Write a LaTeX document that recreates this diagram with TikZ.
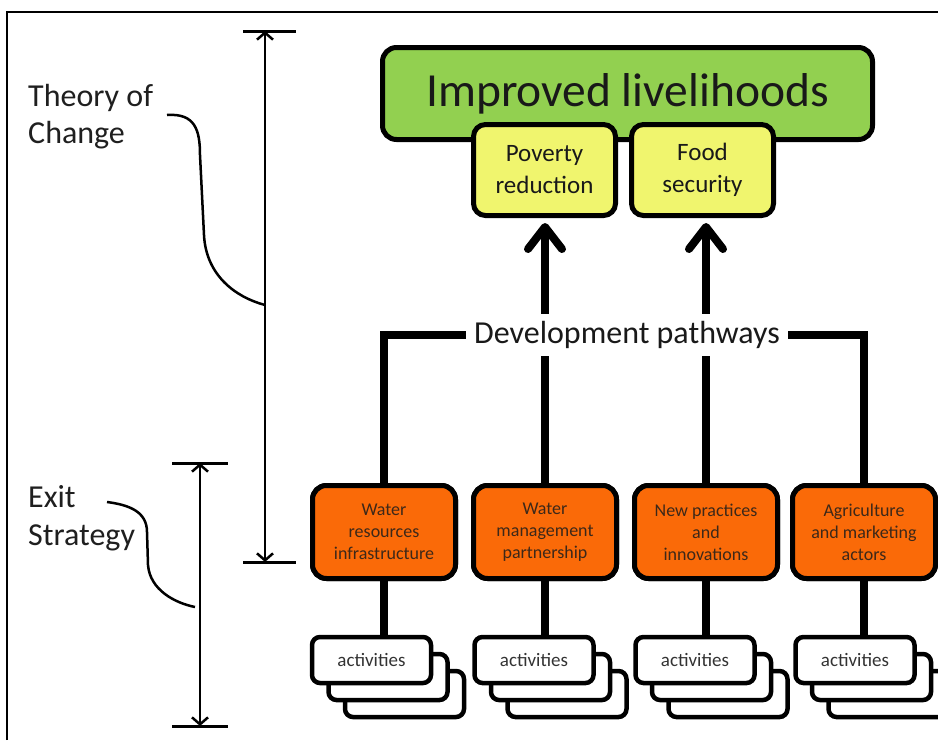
\documentclass[tikz,border=0pt]{standalone}
\usepackage{fontspec}
\setmainfont{Carlito}
\usetikzlibrary{arrows.meta}
\definecolor{lgreen}{RGB}{146,208,80}
\definecolor{lyellow}{RGB}{240,245,110}
\definecolor{orng}{RGB}{250,106,8}
\definecolor{otext}{RGB}{60,40,25}
\begin{document}
\begin{tikzpicture}[x=1pt,y=-1pt,
  roundbox/.style={draw=black, line width=5pt, rounded corners=14pt, align=center, inner sep=0pt},
  goal/.style={roundbox, fill=lgreen, minimum width=490pt, minimum height=92pt, font=\fontsize{47.5}{50}\selectfont, text=black!90},
  outcome/.style={roundbox, fill=lyellow, minimum width=142pt, minimum height=91pt, rounded corners=12pt, font=\fontsize{25}{32}\selectfont, text=black!90},
  pathbox/.style={roundbox, fill=orng, minimum width=143pt, minimum height=93pt, font=\fontsize{18}{22}\selectfont, text=otext},
  actbox/.style={draw=black, line width=4.5pt, fill=white, rounded corners=8pt, minimum width=119pt, minimum height=46pt, inner sep=0pt, font=\fontsize{19}{22}\selectfont, text=black!80},
  conn/.style={line width=8pt},
  bigarrow/.style={conn, -{Straight Barb[length=22pt,width=34pt,round]}},
  spanline/.style={line width=2.5pt, {Straight Barb[length=7pt,width=16pt]}-{Straight Barb[length=7pt,width=16pt]}},
  barline/.style={line width=3pt},
  sidelbl/.style={anchor=base west, inner sep=0pt, font=\fontsize{32}{38}\selectfont, text=black!88},
  braceline/.style={line width=2.5pt},
  devlabel/.style={fill=white, inner xsep=8pt, inner ysep=0pt, minimum height=42pt, font=\fontsize{32}{38}\selectfont, text=black!90}]
\useasboundingbox (0,0) rectangle (938,740);
\clip (0,0) rectangle (938,740);
\fill[white] (0,0) rectangle (938,740);

% frame
\draw[line width=1.2pt] (7,740) -- (7,12) -- (938,12);

% theory of change span
\coordinate (tt) at (265,31);
\coordinate (tb) at (265,562);
\draw[barline] (243,31) -- (296,31);
\draw[barline] (243,562) -- (296,562);
\draw[spanline] (tt) -- (tb);
\node[sidelbl] (toc1) at (28,106) {Theory of};
\node[sidelbl] (toc2) at (28,143) {Change};
\draw[braceline] (167,115) .. controls (195,113) and (200,130) .. (200,155) -- (204,235) .. controls (206,275) and (235,297) .. (265,305);

% exit strategy span
\coordinate (et) at (200,463);
\coordinate (eb) at (200,726);
\draw[barline] (172,463) -- (228,463);
\draw[barline] (172,726) -- (228,726);
\draw[spanline] (et) -- (eb);
\node[sidelbl] (ex1) at (28,507) {Exit};
\node[sidelbl] (ex2) at (28,545) {Strategy};
\draw[braceline] (107,502) .. controls (130,505) and (147,512) .. (147,532) -- (148,565) .. controls (150,590) and (175,603) .. (195,607);

% goal and outcomes
\node[goal] (goal) at (627.5,93.5) {Improved livelihoods};
\node[outcome] (pov) at (544.5,170) {Poverty\\reduction};
\node[outcome] (food) at (702.5,170) {Food\\security};

% pathway boxes
\node[pathbox] (o1) at (384,532) {Water\\resources\\infrastructure};
\node[pathbox] (o2) at (545,532) {Water\\management\\partnership};
\node[pathbox] (o3) at (706,532) {New practices\\and\\innovations};
\node[pathbox] (o4) at (864,532) {Agriculture\\and marketing\\actors};

% arrows to outcomes
\draw[bigarrow] (o2.north) -- ([yshift=-5pt]o2.north |- pov.south);
\draw[bigarrow] (o3.north) -- ([yshift=-5pt]o3.north |- food.south);

% development pathways label
\node[devlabel] (dev) at (627,335) {Development pathways};
\draw[conn] (o1.north) |- (dev.west);
\draw[conn] (o4.north) |- (dev.east);

% redraw pathway boxes on top of connectors
\node[pathbox] at (o1) {Water\\resources\\infrastructure};
\node[pathbox] at (o2) {Water\\management\\partnership};
\node[pathbox] at (o3) {New practices\\and\\innovations};
\node[pathbox] at (o4) {Agriculture\\and marketing\\actors};

% activities stacks
\foreach \i/\cx in {1/371.5, 2/534, 3/695, 4/855} {
  \node[actbox] (a\i c) at (\cx+33,694) {};
  \node[actbox] (a\i b) at (\cx+16.5,677) {};
  \node[actbox] (a\i) at (\cx,660) {activities};
}
\foreach \i in {1,2,3,4} {
  \draw[conn] (o\i.south) -- (o\i.south |- a\i.north);
}
\end{tikzpicture}
\end{document}
